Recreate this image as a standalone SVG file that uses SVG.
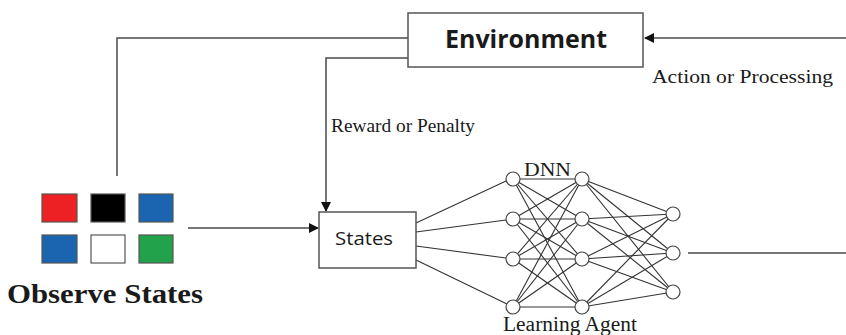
<svg xmlns="http://www.w3.org/2000/svg" width="846" height="335" viewBox="0 0 846 335">
<style>
.ln{stroke:#4a4a4a;stroke-width:1.5;fill:none}
.nn{stroke:#333;stroke-width:1.1;fill:none}
.box{fill:#fff;stroke:#555;stroke-width:1.5}
.node{fill:#fff;stroke:#444;stroke-width:1.2}
.sq{stroke:#555;stroke-width:1.2}
.serif{font-family:"Liberation Serif","Times New Roman",serif;fill:#1a1a1a}
.sans{font-family:"Open Sans","Liberation Sans",Arial,sans-serif;fill:#1a1a1a}
</style>
<defs>
<marker id="ah" markerWidth="10" markerHeight="10" refX="9" refY="5" orient="auto" markerUnits="userSpaceOnUse">
<path d="M0,0 L10,5 L0,10 z" fill="#111"/>
</marker>
</defs>
<g id="connectors">
<polyline class="ln" points="846,38 645,38" marker-end="url(#ah)"/>
<polyline class="ln" points="408,38 117,38 117,176"/>
<polyline class="ln" points="408,58 326,58 326,211" marker-end="url(#ah)"/>
<polyline class="ln" points="188,228 318,228" marker-end="url(#ah)"/>
<line class="ln" x1="688" y1="253" x2="846" y2="253"/>
<g id="states-to-dnn" class="nn">
<line x1="416" y1="223" x2="506" y2="181"/>
<line x1="416" y1="232" x2="506" y2="220"/>
<line x1="416" y1="246" x2="506" y2="258"/>
<line x1="416" y1="260" x2="507" y2="304"/>
</g>
<g id="dnn-edges" class="nn">
<line x1="513" y1="179" x2="582" y2="179"/><line x1="513" y1="179" x2="582" y2="219"/><line x1="513" y1="179" x2="582" y2="259"/><line x1="513" y1="179" x2="582" y2="307"/>
<line x1="513" y1="219" x2="582" y2="179"/><line x1="513" y1="219" x2="582" y2="219"/><line x1="513" y1="219" x2="582" y2="259"/><line x1="513" y1="219" x2="582" y2="307"/>
<line x1="513" y1="259" x2="582" y2="179"/><line x1="513" y1="259" x2="582" y2="219"/><line x1="513" y1="259" x2="582" y2="259"/><line x1="513" y1="259" x2="582" y2="307"/>
<line x1="513" y1="307" x2="582" y2="179"/><line x1="513" y1="307" x2="582" y2="219"/><line x1="513" y1="307" x2="582" y2="259"/><line x1="513" y1="307" x2="582" y2="307"/>
<line x1="582" y1="179" x2="673" y2="214"/><line x1="582" y1="179" x2="673" y2="253"/><line x1="582" y1="179" x2="673" y2="292"/>
<line x1="582" y1="219" x2="673" y2="214"/><line x1="582" y1="219" x2="673" y2="253"/><line x1="582" y1="219" x2="673" y2="292"/>
<line x1="582" y1="259" x2="673" y2="214"/><line x1="582" y1="259" x2="673" y2="253"/><line x1="582" y1="259" x2="673" y2="292"/>
<line x1="582" y1="307" x2="673" y2="214"/><line x1="582" y1="307" x2="673" y2="253"/><line x1="582" y1="307" x2="673" y2="292"/>
</g>
</g>
<g id="environment">
<rect class="box" x="408" y="13" width="235" height="54"/>
<text class="sans" x="445" y="48" font-size="25" font-weight="bold" textLength="162" lengthAdjust="spacingAndGlyphs">Environment</text>
</g>
<g id="action-label"><text class="serif" x="652" y="83" font-size="19" textLength="181" lengthAdjust="spacingAndGlyphs">Action or Processing</text></g>
<g id="reward-label"><text class="serif" x="331" y="132" font-size="18.5" textLength="144" lengthAdjust="spacingAndGlyphs">Reward or Penalty</text></g>
<g id="observe-states">
<rect class="sq" x="42" y="194" width="35" height="28" fill="#ed2024"/>
<rect class="sq" x="91" y="194" width="34" height="28" fill="#000"/>
<rect class="sq" x="139" y="194" width="34" height="28" fill="#1a64b0"/>
<rect class="sq" x="42" y="235" width="35" height="28" fill="#1a64b0"/>
<rect class="sq" x="91" y="235" width="34" height="28" fill="#fff"/>
<rect class="sq" x="139" y="235" width="34" height="28" fill="#22a24a"/>
<text class="serif" x="7" y="303" font-size="27" font-weight="bold" textLength="196" lengthAdjust="spacingAndGlyphs">Observe States</text>
</g>
<g id="states">
<rect class="box" x="319" y="212" width="97" height="56"/>
<text class="sans" x="335" y="245" font-size="19" textLength="58" lengthAdjust="spacingAndGlyphs">States</text>
</g>
<g id="dnn">
<g id="nodes">
<circle class="node" cx="513" cy="179" r="7"/><circle class="node" cx="513" cy="219" r="7"/><circle class="node" cx="513" cy="259" r="7"/><circle class="node" cx="513" cy="307" r="7"/>
<circle class="node" cx="582" cy="179" r="7"/><circle class="node" cx="582" cy="219" r="7"/><circle class="node" cx="582" cy="259" r="7"/><circle class="node" cx="582" cy="307" r="7"/>
<circle class="node" cx="673" cy="214" r="7"/><circle class="node" cx="673" cy="253" r="7"/><circle class="node" cx="673" cy="292" r="7"/>
</g>
<text class="serif" x="524" y="176" font-size="19" textLength="47" lengthAdjust="spacingAndGlyphs">DNN</text>
<text class="serif" x="503" y="331" font-size="20" textLength="134" lengthAdjust="spacingAndGlyphs">Learning Agent</text>
</g>
</svg>
